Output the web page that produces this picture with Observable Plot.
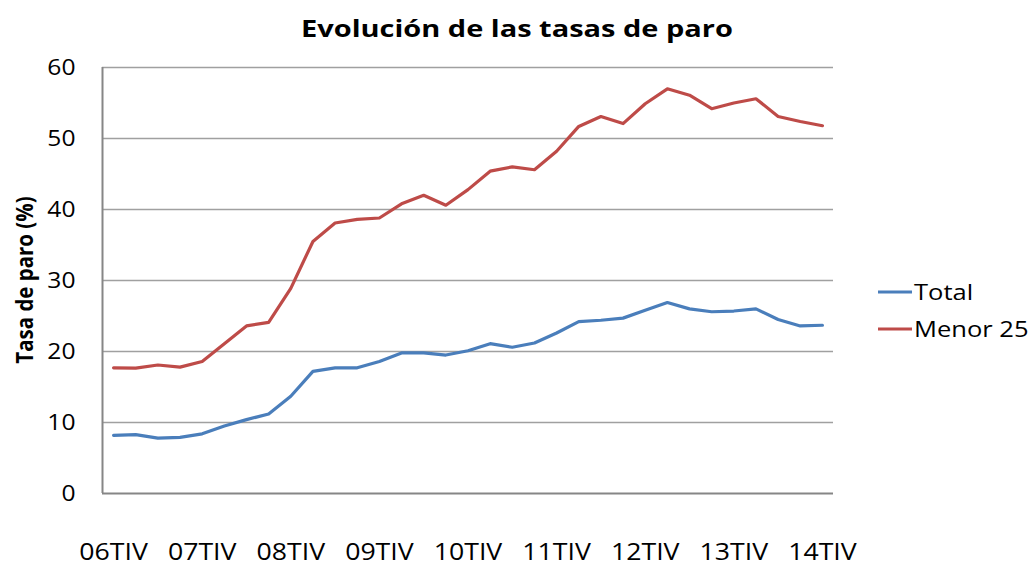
<!DOCTYPE html>
<html>
<head>
<meta charset="utf-8">
<script src="https://cdn.jsdelivr.net/npm/d3@7"></script>
<script src="https://cdn.jsdelivr.net/npm/@observablehq/plot@0.6"></script>
<style>
  html, body { margin: 0; padding: 0; background: #fff; }
  #chart { position: relative; width: 1032px; height: 562px; overflow: hidden; }
</style>
</head>
<body>
<div id="chart"></div>
<script>
const quarters = [
  "06TIV",
  "07TI","07TII","07TIII","07TIV",
  "08TI","08TII","08TIII","08TIV",
  "09TI","09TII","09TIII","09TIV",
  "10TI","10TII","10TIII","10TIV",
  "11TI","11TII","11TIII","11TIV",
  "12TI","12TII","12TIII","12TIV",
  "13TI","13TII","13TIII","13TIV",
  "14TI","14TII","14TIII","14TIV"
];
const total = [
  8.2, 8.3, 7.8, 7.9, 8.4, 9.5, 10.4, 11.2, 13.7, 17.2, 17.7, 17.7, 18.6,
  19.8, 19.8, 19.5, 20.1, 21.1, 20.6, 21.2, 22.6, 24.2, 24.4, 24.7, 25.8,
  26.9, 26.0, 25.6, 25.7, 26.0, 24.5, 23.6, 23.7
];
const menor25 = [
  17.7, 17.65, 18.1, 17.8, 18.6, 21.1, 23.6, 24.1, 28.9, 35.5, 38.1, 38.6, 38.8,
  40.8, 42.0, 40.6, 42.8, 45.4, 46.0, 45.6, 48.2, 51.7, 53.1, 52.1, 54.9,
  57.0, 56.1, 54.2, 55.0, 55.6, 53.1, 52.4, 51.8
];
const tickLabels = ["06TIV","07TIV","08TIV","09TIV","10TIV","11TIV","12TIV","13TIV","14TIV"];
const yTicks = [0, 10, 20, 30, 40, 50, 60];
const seriesNames = ["Total", "Menor 25"];
const seriesColors = ["#4A7EBB", "#BE4B48"];

const rows = [];
quarters.forEach((q, i) => {
  rows.push({i, q, serie: seriesNames[0], v: total[i]});
  rows.push({i, q, serie: seriesNames[1], v: menor25[i]});
});
const tickIdx = tickLabels.map(t => quarters.indexOf(t));

const tickFont = "'Open Sans', 'DejaVu Sans', sans-serif";

const plot = Plot.plot({
  width: 1032,
  height: 562,
  marginTop: 67,
  marginBottom: 69,
  marginLeft: 102,
  marginRight: 199,
  style: {fontFamily: tickFont, fontSize: "22px", color: "#000", background: "#fff"},
  x: {type: "linear", domain: [-0.5, quarters.length - 0.5]},
  y: {domain: [0, 60]},
  color: {domain: seriesNames, range: seriesColors},
  marks: [
    Plot.ruleY(yTicks.filter(d => d > 0), {stroke: "#A0A0A0", strokeWidth: 1.3}),
    Plot.ruleY([0], {stroke: "#868686", strokeWidth: 2}),
    Plot.ruleX([-0.5], {stroke: "#868686", strokeWidth: 2}),
    Plot.axisY({ticks: yTicks, tickSize: 0, tickPadding: 27, label: null, fontSize: 22}),
    Plot.axisX({ticks: tickIdx, tickFormat: i => quarters[i], tickSize: 0, tickPadding: 50, label: null, fontSize: 23}),
    Plot.line(rows, {x: "i", y: "v", z: "serie", stroke: "serie", strokeWidth: 3.2, strokeLinejoin: "round"})
  ]
});

const svg = d3.select(plot);
// stretch axis labels horizontally like the reference
svg.selectAll('g[aria-label="x-axis tick label"] text').each(function() {
  const t = d3.select(this);
  t.attr("transform", (t.attr("transform") || "") + " scale(1.16,1)");
});
svg.selectAll('g[aria-label="y-axis tick label"] text').each(function() {
  const t = d3.select(this);
  t.attr("transform", (t.attr("transform") || "") + " scale(1.12,1)");
});
// Title
svg.append("text")
  .attr("transform", "translate(517,37) scale(1.26,1)")
  .attr("text-anchor", "middle")
  .style("font-family", tickFont)
  .style("font-weight", "bold")
  .style("font-size", "23px")
  .text("Evolución de las tasas de paro");
// Y axis title
svg.append("text")
  .attr("transform", "translate(33,280) rotate(-90) scale(0.89,1)")
  .attr("text-anchor", "middle")
  .style("font-family", tickFont)
  .style("font-weight", "bold")
  .style("font-size", "23px")
  .text("Tasa de paro (%)");
// Legend
const leg = svg.append("g");
seriesNames.forEach((name, k) => {
  const y = 292 + k * 37;
  leg.append("line").attr("x1", 878).attr("x2", 912).attr("y1", y).attr("y2", y)
    .attr("stroke", seriesColors[k]).attr("stroke-width", 3.2);
  leg.append("text")
    .attr("transform", `translate(914,${y}) scale(1.16,1)`)
    .attr("text-anchor", "start")
    .attr("dy", "0.36em")
    .style("font-family", tickFont).style("font-size", "22px")
    .text(name);
});

document.getElementById("chart").appendChild(plot);
</script>
</body>
</html>
